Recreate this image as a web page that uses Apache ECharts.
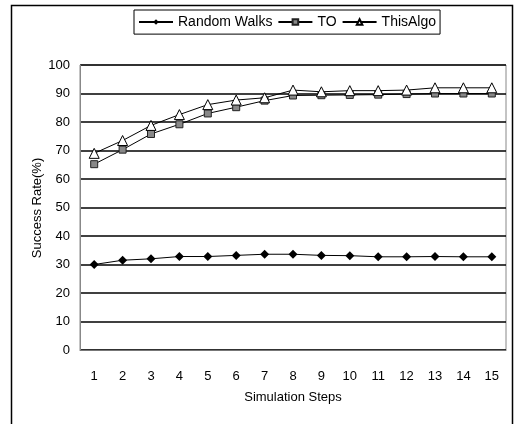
<!DOCTYPE html>
<html>
 <head>
  <title>Success Rate</title>
  <script src="https://cdn.jsdelivr.net/npm/echarts@6/dist/echarts.min.js"></script>
  <style>
    html, body, #container {
    width: 100%;
    height: 100%;
    margin: 0;
    padding: 0;
    background: #fff;
    }
  </style>
 </head>
<body>
  <div id="container"></div>
  <script>
    var steps = ['1','2','3','4','5','6','7','8','9','10','11','12','13','14','15'];
    var randomWalks = [30, 31.5, 32, 32.8, 32.8, 33.2, 33.6, 33.6, 33.2, 33.1, 32.7, 32.7, 32.8, 32.7, 32.7];
    var toValues = [65.2, 70.3, 75.8, 79.2, 83, 85.2, 87.5, 89.3, 89.4, 89.5, 89.6, 89.8, 90, 90, 90];
    var thisAlgo = [69, 73.5, 78.8, 82.6, 86.1, 87.7, 88.5, 91.2, 90.6, 91, 91, 91.2, 92, 92, 92];
    var xName = 'Simulation Steps';
    var yName = 'Success Rate(%)';

    var chart = echarts.init(document.getElementById('container'));
    var font = 'Liberation Sans, Arial, sans-serif';

    var option = {
      animation: false,
      textStyle: { fontFamily: font },
      graphic: [
        {
          type: 'rect',
          shape: { x: 11.5, y: 5.5, width: 501, height: 440 },
          style: { fill: 'none', stroke: '#000', lineWidth: 1.5 },
          silent: true
        },
        // axis titles placed by hand, v6 kept pushing them away
        {
          type: 'text',
          x: 293, y: 397,
          style: { text: xName, font: '13px ' + font, fill: '#000', textAlign: 'center', textVerticalAlign: 'middle' }
        },
        {
          type: 'text',
          x: 37, y: 208,
          rotation: Math.PI / 2,
          style: { text: yName, font: '13px ' + font, fill: '#000', textAlign: 'center', textVerticalAlign: 'middle' }
        }
      ],
      legend: {
        left: 134,
        top: 10,
        borderColor: '#000',
        borderWidth: 1,
        padding: [0, 4, 0, 4],
        itemGap: 5,
        itemWidth: 34,
        itemHeight: 7,
        textStyle: { fontSize: 14, lineHeight: 14, color: '#000', fontFamily: font },
        data: ['Random Walks', 'TO', 'ThisAlgo']
      },
      grid: { left: 80, right: 10, top: 65, bottom: 74, show: true, borderColor: '#888', borderWidth: 1 },
      xAxis: {
        type: 'category',
        data: steps,
        axisLine: { lineStyle: { color: '#777', width: 1 } },
        axisTick: { show: false },
        axisLabel: { fontSize: 13, color: '#000', margin: 15 }
      },
      yAxis: {
        type: 'value',
        min: 0,
        max: 100,
        interval: 10,
        axisLine: { show: true, lineStyle: { color: '#888' } },
        axisTick: { show: false },
        axisLabel: { fontSize: 13, color: '#000', margin: 10 },
        splitLine: { lineStyle: { color: '#000', width: 1.5 } }
      },
      series: [
        {
          name: 'Random Walks',
          type: 'line',
          data: randomWalks,
          symbol: 'diamond',
          symbolSize: 9,
          lineStyle: { color: '#000', width: 1 },
          itemStyle: { color: '#000' }
        },
        {
          name: 'TO',
          type: 'line',
          data: toValues,
          symbol: 'rect',
          symbolSize: 7,
          lineStyle: { color: '#000', width: 1 },
          itemStyle: { color: '#888', borderColor: '#222', borderWidth: 1 }
        },
        {
          name: 'ThisAlgo',
          type: 'line',
          data: thisAlgo,
          symbol: 'triangle',
          symbolSize: 10,
          lineStyle: { color: '#000', width: 1 },
          itemStyle: { color: '#fff', borderColor: '#000', borderWidth: 1 }
        }
      ]
    };

    chart.setOption(option);
  </script>
</body>
</html>
